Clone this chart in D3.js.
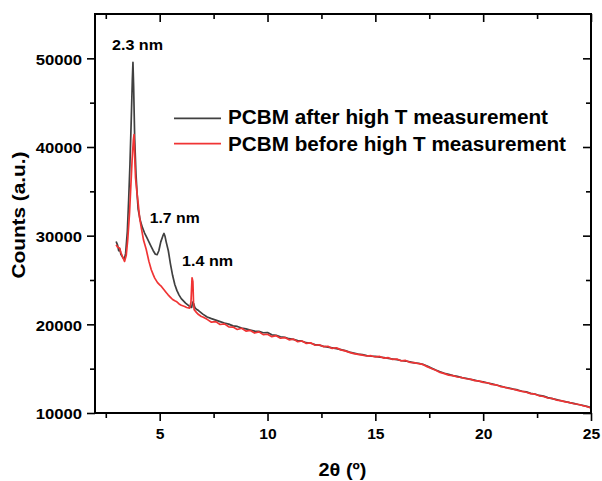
<!DOCTYPE html>
<html><head><meta charset="utf-8">
<script src="https://cdn.jsdelivr.net/npm/d3@7"></script>
<style>body{margin:0;background:#fff}svg{display:block;font-family:"Liberation Sans",Arial,sans-serif;font-weight:bold}</style>
</head><body><svg id="c" width="602" height="481"></svg>
<script>
// ---- data ----
const afterX = [2.98,3.05,3.1,3.15,3.2,3.3,3.36,3.42,3.5,3.56,3.62,3.68,3.73,3.76,3.79,3.84,3.9,3.95,4.0,4.1,4.2,4.3,4.4,4.5,4.6,4.7,4.8,4.88,4.96,5.05,5.15,5.2,5.25,5.3,5.4,5.5,5.6,5.7,5.8,5.9,6.0,6.1,6.2,6.3,6.4,6.48,6.53,6.58,6.63,6.7,6.8,6.9,
7.0,7.2,7.4,7.6,7.8,8.0,8.2,8.4,8.6,8.8,9.0,9.2,9.4,9.6,9.8,10.0,10.2,10.4,10.6,10.8,11.0,11.2,11.4,11.6,11.8,12.0,12.2,12.4,12.6,12.8,13.0,13.2,13.4,13.6,13.8,14.0,14.2,14.4,14.6,14.8,15.0,15.2,15.4,15.6,15.8,16.0,16.2,16.4,16.6,16.8,17.0,17.2,17.4,17.6,17.8,18.0,18.2,18.4,18.6,18.8,19.0,19.2,19.4,19.6,19.8,20.0,20.2,20.4,20.6,20.8,21.0,21.2,21.4,21.6,21.8,22.0,22.2,22.4,22.6,22.8,23.0,23.2,23.4,23.6,23.8,24.0,24.2,24.4,24.6,24.8,25.0];
const afterY = [29340,28900,28300,28500,27900,27500,27360,28000,30500,34000,38000,43000,47500,49550,47000,41000,37000,34800,33000,31700,30900,30300,29800,29300,28800,28300,27900,27850,28300,29300,30000,30250,29900,29300,28300,26800,25500,24500,23800,23300,22900,22650,22400,22200,22000,21900,22500,22300,21900,21700,21550,21350,
21150,20820,20640,20480,20310,20150,20020,19830,19760,19580,19480,19360,19240,19210,19050,19080,18820,18760,18600,18540,18380,18300,18160,18100,17930,17870,17720,17650,17520,17430,17350,17260,17150,17030,16870,16750,16640,16580,16470,16400,16380,16300,16260,16170,16090,16010,15920,15860,15760,15660,15610,15490,15300,15060,14850,14660,14480,14350,14220,14130,13990,13920,13790,13700,13580,13510,13380,13290,13160,13050,12900,12820,12690,12600,12450,12380,12210,12140,11980,11900,11730,11620,11500,11380,11300,11170,11080,10960,10870,10740,10600];
const beforeX = [2.98,3.05,3.14,3.2,3.28,3.37,3.45,3.52,3.6,3.66,3.72,3.78,3.81,3.84,3.88,3.94,4.0,4.07,4.15,4.25,4.38,4.5,4.61,4.7,4.77,4.9,5.0,5.08,5.2,5.3,5.39,5.5,5.6,5.7,5.77,5.9,6.0,6.16,6.25,6.39,6.45,6.5,6.54,6.57,6.6,6.7,6.8,6.93,
7.0,7.2,7.4,7.6,7.8,8.0,8.2,8.4,8.6,8.8,9.0,9.2,9.4,9.6,9.8,10.0,10.2,10.4,10.6,10.8,11.0,11.2,11.4,11.6,11.8,12.0,12.2,12.4,12.6,12.8,13.0,13.2,13.4,13.6,13.8,14.0,14.2,14.4,14.6,14.8,15.0,15.2,15.4,15.6,15.8,16.0,16.2,16.4,16.6,16.8,17.0,17.2,17.4,17.6,17.8,18.0,18.2,18.4,18.6,18.8,19.0,19.2,19.4,19.6,19.8,20.0,20.2,20.4,20.6,20.8,21.0,21.2,21.4,21.6,21.8,22.0,22.2,22.4,22.6,22.8,23.0,23.2,23.4,23.6,23.8,24.0,24.2,24.4,24.6,24.8,25.0];
const beforeY = [28970,28700,28600,28100,27600,27090,27800,29600,32500,35500,38500,40800,41400,39000,36500,35000,33700,32000,30850,29500,28400,27100,26150,25600,25210,24700,24450,24270,23900,23600,23330,23050,22800,22650,22580,22300,22150,22010,21900,21830,22500,25250,24800,22300,21640,21350,21100,20890,
20830,20560,20240,20310,19980,20050,19720,19690,19420,19560,19230,19310,19020,19150,18840,18880,18610,18720,18430,18510,18250,18330,18040,18120,17850,17910,17640,17700,17480,17530,17280,17360,17120,17010,16840,16690,16610,16520,16430,16460,16320,16380,16190,16240,16040,16080,15870,15930,15720,15680,15560,15480,15230,15010,14820,14580,14440,14270,14210,14060,14010,13860,13830,13650,13620,13460,13410,13230,13180,12980,12910,12760,12680,12550,12430,12340,12180,12120,11940,11860,11690,11640,11460,11400,11260,11190,11040,10990,10840,10730,10560];
const seriesNames = ["PCBM after high T measurement","PCBM before high T measurement"];
const seriesColors = ["#404040","#f03434"];
const xMajor = [5,10,15,20,25];
const xMinor = [2.5,7.5,12.5,17.5,22.5];
const yMajor = [10000,20000,30000,40000,50000];
const yMinor = [15000,25000,35000,45000];
const peakLabels = ["2.3 nm","1.7 nm","1.4 nm"];
const peakX = [3.76,5.2,6.5];
const peakY = [49550,30250,25250];

// ---- chart ----
const svg = d3.select("#c");
const L=95,R=591,T=14,B=413;
const x = d3.scaleLinear().domain([2,25]).range([L,R]);
const y = d3.scaleLinear().domain([10000,55000]).range([B,T]);
const FONT='"Liberation Sans",Arial,sans-serif';

function stretch(sel,f){sel.each(function(){const w=this.getComputedTextLength();d3.select(this).attr("textLength",w*f).attr("lengthAdjust","spacingAndGlyphs");});}
function styleAxis(g){g.select(".domain").remove();g.selectAll("line").attr("stroke","#000").attr("stroke-width",1.6);g.selectAll("text").attr("font-size",14.5).attr("font-weight","bold").attr("font-family",FONT).attr("fill","#000");}

const gx = svg.append("g").attr("transform",`translate(0,${B})`).call(d3.axisBottom(x).tickValues(xMajor).tickFormat(d3.format("d")).tickSize(8).tickPadding(8)).call(styleAxis);
stretch(gx.selectAll("text"),1.08);
svg.append("g").attr("transform",`translate(0,${B})`).call(d3.axisBottom(x).tickValues(xMinor).tickFormat("").tickSize(5)).call(styleAxis);
const gy = svg.append("g").attr("transform",`translate(${L},0)`).call(d3.axisLeft(y).tickValues(yMajor).tickFormat(d3.format("d")).tickSize(8).tickPadding(5)).call(styleAxis);
stretch(gy.selectAll("text"),1.15);
gy.selectAll("text").attr("dy","0.4em");
svg.append("g").attr("transform",`translate(${L},0)`).call(d3.axisLeft(y).tickValues(yMinor).tickFormat("").tickSize(5)).call(styleAxis);
// mirror axes with inward ticks
svg.append("g").attr("transform",`translate(0,${T})`).call(d3.axisBottom(x).tickValues(xMajor).tickFormat("").tickSize(8)).call(styleAxis);
svg.append("g").attr("transform",`translate(0,${T})`).call(d3.axisBottom(x).tickValues(xMinor).tickFormat("").tickSize(5)).call(styleAxis);
svg.append("g").attr("transform",`translate(${R},0)`).call(d3.axisLeft(y).tickValues(yMajor).tickFormat("").tickSize(8)).call(styleAxis);
svg.append("g").attr("transform",`translate(${R},0)`).call(d3.axisLeft(y).tickValues(yMinor).tickFormat("").tickSize(5)).call(styleAxis);

const line = d3.line().x(d=>x(d[0])).y(d=>y(d[1]));
const sets = [d3.zip(afterX,afterY), d3.zip(beforeX,beforeY)];
svg.append("path").datum(sets[0]).attr("d",line).attr("fill","none").attr("stroke",seriesColors[0]).attr("stroke-width",1.7).attr("stroke-linejoin","round");
svg.append("path").datum(sets[1]).attr("d",line).attr("fill","none").attr("stroke",seriesColors[1]).attr("stroke-width",1.7).attr("stroke-linejoin","round");

svg.append("rect").attr("x",L).attr("y",T).attr("width",R-L).attr("height",B-T).attr("fill","none").attr("stroke","#000").attr("stroke-width",2);

// peak annotations
const offs = [[-21,-12],[-14.3,-10.7],[-10,-11.6]];
const annW = [51,50,51];
peakLabels.forEach((t,i)=>{
  svg.append("text").attr("x",x(peakX[i])+offs[i][0]).attr("y",y(peakY[i])+offs[i][1]).attr("font-size",15).attr("textLength",annW[i]).attr("lengthAdjust","spacingAndGlyphs").text(t);
});
// legend
const legW = [320,338];
const lg = svg.append("g");
seriesNames.forEach((n,i)=>{
  const yy = 118.3 + i*25.3;
  lg.append("line").attr("x1",174).attr("x2",221).attr("y1",yy).attr("y2",yy).attr("stroke",seriesColors[i]).attr("stroke-width",1.7);
  lg.append("text").attr("x",228).attr("y",124.4+i*26.5).attr("font-size",20).attr("textLength",legW[i]).attr("lengthAdjust","spacingAndGlyphs").text(n);
});
// axis titles
svg.append("text").attr("transform",`translate(25,215) rotate(-90)`).attr("text-anchor","middle").attr("font-size",18.5).attr("textLength",127).attr("lengthAdjust","spacingAndGlyphs").text("Counts (a.u.)");
svg.append("text").attr("x",342.5).attr("y",475.5).attr("text-anchor","middle").attr("font-size",18.5).attr("textLength",48).attr("lengthAdjust","spacingAndGlyphs").text("2θ (º)");
</script></body></html>
